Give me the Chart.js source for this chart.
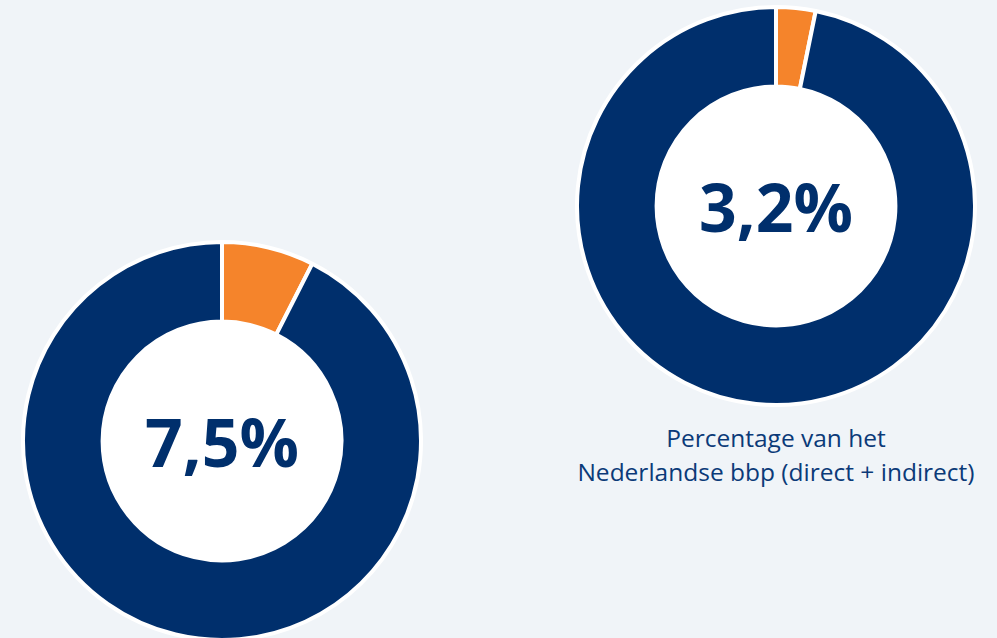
<!DOCTYPE html>
<html>
<head>
<meta charset="utf-8">
<script src="https://cdn.jsdelivr.net/npm/chart.js@4"></script>
<style>
  html, body { margin: 0; padding: 0; width: 997px; height: 638px; overflow: hidden; background: #f0f4f8; font-family: "Open Sans", sans-serif; }
  .wrap { position: absolute; width: 402px; height: 402px; }
  .center { position: absolute; left: 0; top: 0; width: 402px; height: 402px; display: flex; align-items: center; justify-content: center; font-weight: 700; font-size: 66px; color: #002f6c; }
  .label { position: absolute; left: 536px; width: 480px; top: 421px; text-align: center; font-size: 24.5px; line-height: 34px; color: #0b3a78; }
</style>
</head>
<body>
<div class="wrap" id="w1" style="left:21px; top:240px;"><canvas id="c1" width="402" height="402"></canvas><div class="center">7,5%</div></div>
<div class="wrap" id="w2" style="left:575px; top:5px;"><canvas id="c2" width="402" height="402"></canvas><div class="center">3,2%</div></div>
<div class="label">Percentage van het<br>Nederlandse bbp (direct + indirect)</div>
<script>
const categories = ["Aandeel", "Overig"];
const valuesLeft = [7.5, 92.5];
const valuesRight = [3.2, 96.8];
const centerLabels = ["7,5%", "3,2%"];
const colors = ["#f5842b", "#002f6c"];

const holePlugin = {
  id: 'hole',
  beforeDatasetsDraw(chart) {
    const arc = chart.getDatasetMeta(0).data[0];
    if (!arc) return;
    const ctx = chart.ctx;
    ctx.save();
    ctx.beginPath();
    ctx.arc(arc.x, arc.y, arc.innerRadius, 0, Math.PI * 2);
    ctx.fillStyle = '#ffffff';
    ctx.fill();
    ctx.restore();
  }
};

function makeChart(id, values) {
  new Chart(document.getElementById(id), {
    type: 'doughnut',
    data: {
      labels: categories,
      datasets: [{
        data: values,
        backgroundColor: colors,
        borderColor: '#ffffff',
        borderWidth: 4,
        hoverOffset: 0
      }]
    },
    options: {
      responsive: false,
      animation: false,
      cutout: '60%',
      rotation: 0,
      plugins: { legend: { display: false }, tooltip: { enabled: false } },
      layout: { padding: 0 }
    },
    plugins: [holePlugin]
  });
}
makeChart('c1', valuesLeft);
makeChart('c2', valuesRight);
</script>
</body>
</html>
